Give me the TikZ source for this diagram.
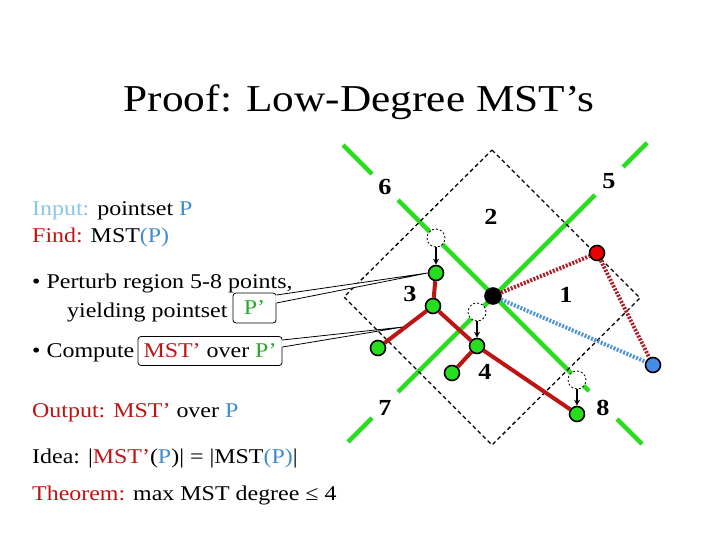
\documentclass[tikz,border=0pt]{standalone}
\usepackage{fontspec}
\setmainfont[FakeStretch=1.14]{Liberation Serif}
\usetikzlibrary{arrows.meta,calc}
\definecolor{dred}{RGB}{190,20,20}
\definecolor{lblue}{RGB}{135,200,230}
\definecolor{pblue}{RGB}{65,140,205}
\definecolor{pgreen}{RGB}{40,170,40}
\definecolor{lgreen}{RGB}{40,220,30}
\definecolor{rnode}{RGB}{235,0,0}
\definecolor{bnode}{RGB}{70,140,230}
\definecolor{dotred}{RGB}{175,30,40}
\definecolor{dotblue}{RGB}{80,150,215}
\tikzset{
  txt/.style={anchor=base west, inner sep=0pt, font=\fontsize{21}{25}\selectfont},
  calloutbox/.style={draw=black, line width=0.8pt, rounded corners=3pt, inner sep=0pt, font=\fontsize{21}{25}\selectfont},
  gline/.style={draw=lgreen, line width=4.5pt},
  diam/.style={draw=black, line width=1.3pt, dash pattern=on 4pt off 3pt},
  gnode/.style={circle, draw=black, line width=1.6pt, fill=lgreen, minimum size=15pt, inner sep=0pt},
  rnodest/.style={gnode, fill=rnode},
  bnodest/.style={gnode, fill=bnode},
  cnodest/.style={gnode, fill=black, minimum size=16pt},
  hollow/.style={circle, draw=black, line width=0.8pt, dash pattern=on 2pt off 2pt, fill=white, minimum size=18pt, inner sep=0pt},
  move/.style={draw=black, line width=1.5pt, -{Stealth[length=6pt,width=6pt]}},
  redge/.style={draw=dred, line width=4pt},
  rdot/.style={draw=dotred, line width=4pt, dash pattern=on 2pt off 1.5pt},
  bdot/.style={draw=dotblue, line width=4pt, dash pattern=on 2pt off 1.5pt},
  lbl/.style={inner sep=0pt, font=\fontsize{23}{27}\selectfont\bfseries},
  wedge/.style={draw=black, line width=0.8pt}
}
\begin{document}
\begin{tikzpicture}[x=1pt,y=-1pt]
\useasboundingbox (0,0) rectangle (720,540);
% title
\node[anchor=base, inner sep=0pt, font=\fontsize{38}{44}\selectfont] (title) at (359,112) {Proof: Low-Degree MST’s};
% left text
\node[txt] (input) at (32,215) {\textcolor{lblue}{Input:} pointset \textcolor{pblue}{P}};
\node[txt] (find) at (32,243) {\textcolor{dred}{Find:} MST\textcolor{pblue}{(P)}};
\node[txt] (perturb) at (32,288) {• Perturb region 5-8 points,};
\node[txt] (yield) at (67,317) {yielding pointset};
\node[calloutbox, minimum width=43pt, minimum height=30pt] (pbox) at (254.5,308) {\textcolor{pgreen}{P’}};
\node[txt] (compute) at (32,357) {• Compute};
\node[calloutbox, minimum width=144pt, minimum height=29pt] (mbox) at (210,351) {\textcolor{dred}{MST’} over \textcolor{pgreen}{P’}};
\node[txt] (output) at (32,417) {\textcolor{dred}{Output: MST’} over \textcolor{pblue}{P}};
\node[txt] (idea) at (32,463) {Idea: |\textcolor{dred}{MST’}(\textcolor{pblue}{P})| = |MST\textcolor{pblue}{(P)}|};
\node[txt] (theorem) at (32,500) {\textcolor{dred}{Theorem:} max MST degree ≤ 4};
% green region lines
\draw[gline] (343,145) -- (372,174);
\draw[gline] (398,200) -- (589,391);
\draw[gline] (617,419) -- (642,444);
\draw[gline] (348,442) -- (372,418);
\draw[gline] (398,392) -- (595,195);
\draw[gline] (623,167) -- (647,143);
% dashed diamond
\draw[diam] (492,150) -- (640,298) -- (492,445) -- (344,297) -- cycle;
% region labels
\node[lbl] (l6) at (385,187) {6};
\node[lbl] (l5) at (609,181) {5};
\node[lbl] (l2) at (491,217) {2};
\node[lbl] (l3) at (410,294) {3};
\node[lbl] (l1) at (566,295) {1};
\node[lbl] (l4) at (485,372) {4};
\node[lbl] (l7) at (385,408) {7};
\node[lbl] (l8) at (603,408) {8};
% hollow (old) positions
\node[hollow] (h1) at (436,238) {};
\node[hollow] (h2) at (477,312) {};
\node[hollow] (h3) at (577,380) {};
% points
\node[gnode] (g1) at (436,273) {};
\node[gnode] (g2) at (433,306) {};
\node[gnode] (g3) at (378,348) {};
\node[gnode] (g4) at (477,346) {};
\node[gnode] (g5) at (452,373) {};
\node[gnode] (g6) at (577,414) {};
\node[rnodest] (rn) at (597,253) {};
\node[bnodest] (bn) at (653,365) {};
\node[cnodest] (cn) at (493,296) {};
% moves
\draw[move] (h1) -- (g1);
\draw[move] (h2) -- (g4);
\draw[move] (h3) -- (g6);
% MST' edges
\draw[redge] (g1) -- (g2);
\draw[redge] (g2) -- (g3);
\draw[redge] (g2) -- (g4);
\draw[redge] (g4) -- (g5);
\draw[redge] (g4) -- (g6);
% dotted edges
\draw[rdot] (cn) -- (rn);
\draw[rdot] (rn) -- (bn);
\draw[bdot] (cn) -- (bn);
% callout wedges
\coordinate (tip2) at (403,327);
\fill[white] ($(pbox.east)+(-1,-13)$) -- (g1.west) -- ($(pbox.east)+(-1,-5)$) -- cycle;
\draw[wedge] ($(pbox.east)+(0,-13)$) -- (g1.west) -- ($(pbox.east)+(0,-5)$);
\fill[white] ($(mbox.east)+(-1,-11)$) -- (tip2) -- ($(mbox.east)+(-1,-4)$) -- cycle;
\draw[wedge] ($(mbox.east)+(0,-11)$) -- (tip2) -- ($(mbox.east)+(0,-4)$);
\end{tikzpicture}
\end{document}
